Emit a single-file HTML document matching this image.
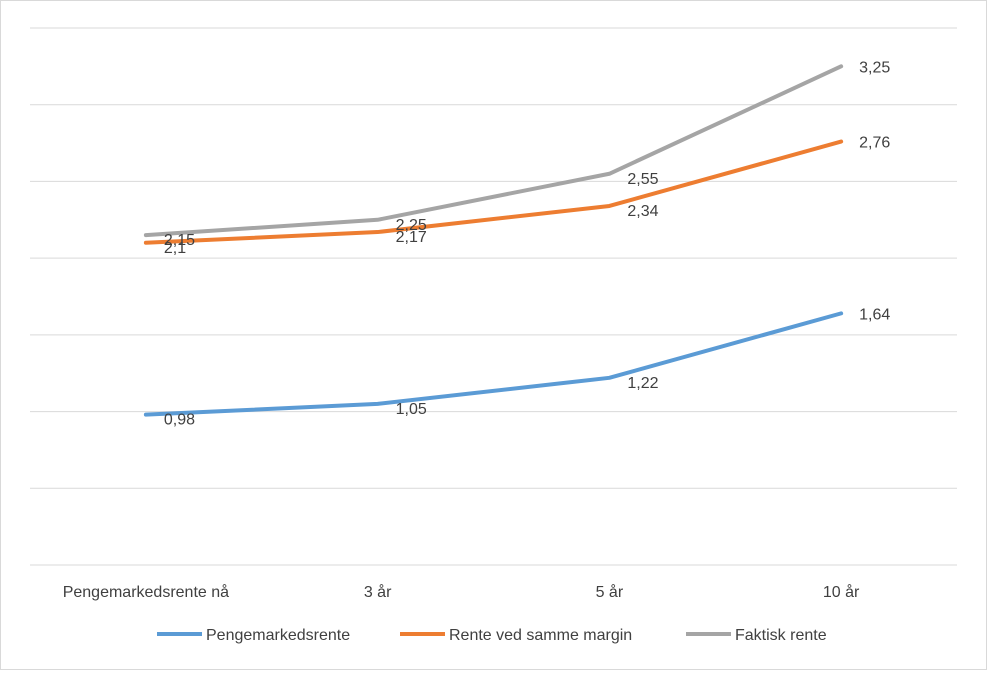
<!DOCTYPE html>
<html><head><meta charset="utf-8"><style>
body{margin:0;background:#fff;font-family:"Liberation Sans",sans-serif}
svg text{font-family:"Liberation Sans",sans-serif;fill:#404040}
</style></head><body>
<svg width="988" height="671">
<rect x="0.5" y="0.5" width="986" height="669" fill="#fff" stroke="#d9d9d9"/>
<g id="grid"></g><g id="xl"></g><g id="series"></g>
<g>
<line x1="157" y1="634" x2="202" y2="634" stroke="#5b9bd5" stroke-width="4"/><text x="206" y="640" font-size="16">Pengemarkedsrente</text>
<line x1="400" y1="634" x2="445" y2="634" stroke="#ed7d31" stroke-width="4"/><text x="449" y="640" font-size="16">Rente ved samme margin</text>
<line x1="686" y1="634" x2="731" y2="634" stroke="#a5a5a5" stroke-width="4"/><text x="735" y="640" font-size="16">Faktisk rente</text>
</g>
</svg>
<script>
const categories=["Pengemarkedsrente nå","3 år","5 år","10 år"];
const pengemarkedsrente=[0.98,1.05,1.22,1.64];
const renteSammeMargin=[2.1,2.17,2.34,2.76];
const faktiskRente=[2.15,2.25,2.55,3.25];
const yTicks=[0,0.5,1,1.5,2,2.5,3,3.5];
const NS="http://www.w3.org/2000/svg";
const x0=30,x1=957,yb=565,yt=28,ymax=3.5;
const y=v=>yb-(v/ymax)*(yb-yt);
const x=i=>x0+(x1-x0)/categories.length*(i+0.5);
function mk(t,a,p){const e=document.createElementNS(NS,t);for(const k in a)e.setAttribute(k,a[k]);p.appendChild(e);return e;}
const g=document.getElementById('grid');
yTicks.forEach(v=>{const l=mk('line',{x1:x0,x2:x1,y1:y(v),y2:y(v),stroke:'#d9d9d9','stroke-width':1},g);

});
const xl=document.getElementById('xl');
categories.forEach((c,i)=>{const t=mk('text',{x:x(i),y:597,'font-size':16,'text-anchor':'middle'},xl);t.textContent=c;

});
const sg=document.getElementById('series');
[[pengemarkedsrente,'#5b9bd5','pengemarkedsrente'],[renteSammeMargin,'#ed7d31','rente-ved-samme-margin'],[faktiskRente,'#a5a5a5','faktisk-rente']].forEach(([d,col,n])=>{
const p=mk('polyline',{points:d.map((v,i)=>x(i)+','+y(v)).join(' '),fill:'none',stroke:col,'stroke-width':4,'stroke-linejoin':'round','stroke-linecap':'round'},sg);


d.forEach((v,i)=>{const t=mk('text',{x:x(i)+18,y:y(v)+(i==3?6:10),'font-size':16},sg);t.textContent=String(v).replace('.',',');

});
});
</script>
</body></html>
